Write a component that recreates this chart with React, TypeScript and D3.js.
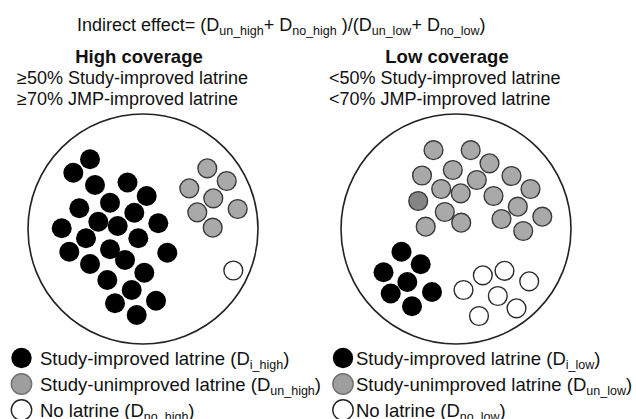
import React from 'react';
import * as d3 from 'd3';

// ---------- data ----------
const PANEL_TITLES = ['High coverage', 'Low coverage'];
const PANEL_LINE1 = ['≥50% Study-improved latrine', '<50% Study-improved latrine'];
const PANEL_LINE2 = ['≥70% JMP-improved latrine', '<70% JMP-improved latrine'];

// household offsets from the community centre (community radius = 115 units)
const HIGH_IMPROVED: [number, number][] = [
  [-53, -69.7], [-69.7, -56.3], [-48, -44], [-15.5, -46.5], [3.7, -33], [-33, -26.3],
  [-63.7, -20.7], [-8.7, -16.3], [-44.7, -7.3], [-25.3, -3], [15.3, -5.7], [-81.3, -0.7],
  [-57, 9.3], [-4.7, 9.3], [-73.7, 22.7], [-33, 20.3], [-18, 31], [24.3, 23.7],
  [-53, 35], [1.3, 43.7], [-35.7, 51], [-11.3, 61], [13, 71.7], [-28, 74.3], [-6.3, 86],
];
const HIGH_UNIMPROVED: [number, number][] = [
  [64.3, -60.7], [83.7, -48], [46.3, -40.7], [70.3, -30.7], [54.3, -16.7], [94.7, -20], [69.7, -1.3],
];
const HIGH_NONE: [number, number][] = [[90.3, 41.5]];

const LOW_IMPROVED: [number, number][] = [
  [-54.5, 22.7], [-35.3, 35.2], [-72.5, 43.2], [-48.7, 53], [-65.3, 64.5], [-24, 63], [-44, 77.3],
];
const LOW_UNIMPROVED: [number, number][] = [
  [-22.5, -78.8], [14.7, -78.8], [33.5, -65.7], [-3.2, -59], [-34, -53.5], [20.8, -49],
  [55.5, -53], [-14.8, -40], [4.7, -35.7], [74.5, -40], [37.5, -33], [-37.8, -28],
  [61.8, -22.3], [-11.2, -17], [86.3, -12.3], [45.5, -10], [5.2, -6.3], [-30.3, -2.3], [67.2, 2],
];
const LOW_UNIMPROVED_DARK = [11];
const LOW_NONE: [number, number][] = [
  [26.8, 46.3], [48.5, 41.8], [73.2, 52.3], [7.5, 61], [41.8, 67], [60.5, 79.3], [23, 87],
];

const TITLE_SEGMENTS: [string, boolean][] = [
  ['Indirect effect= (D', false], ['un_high', true], ['+ D', false], ['no_high', true],
  [' )/(D', false], ['un_low', true], ['+ D', false], ['no_low', true], [')', false],
];

const LEGEND_LABELS = ['Study-improved latrine', 'Study-unimproved latrine', 'No latrine'];
const LEGEND_SUBS = [
  ['i_high', 'un_high', 'no_high'],
  ['i_low', 'un_low', 'no_low'],
];

// ---------- layout ----------
const W = 636;
const H = 419;
const FONT = '"Liberation Sans", Arial, Helvetica, sans-serif';
const R = 115;
const CX = [143, 456];
const CY = 229;
const DOT_R = 10;
const FILLS = ['#000000', '#a9a9a9', '#ffffff'];
const STROKES = ['#000000', '#3a3a3a', '#2a2a2a'];
const SUB_SIZE = 12.5;
const SUB_SHIFT = 4;

function Dots({ pts, kind, cx, dark = [] as number[] }: { pts: [number, number][]; kind: number; cx: number; dark?: number[] }) {
  const x = d3.scaleLinear().domain([-R, R]).range([cx - R, cx + R]);
  const y = d3.scaleLinear().domain([-R, R]).range([CY - R, CY + R]);
  return (
    <g>
      {pts.map((p, i) => (
        <circle
          key={i}
          cx={x(p[0])}
          cy={y(p[1])}
          r={kind === 0 ? DOT_R : DOT_R - 0.6}
          fill={dark.includes(i) ? '#858585' : FILLS[kind]}
          stroke={STROKES[kind]}
          strokeWidth={kind === 0 ? 0 : 1.4}
        />
      ))}
    </g>
  );
}

function Segs({ segs }: { segs: [string, boolean][] }) {
  let prevSub = false;
  return (
    <>
      {segs.map(([t, isSub], i) => {
        const dy = isSub && !prevSub ? SUB_SHIFT : !isSub && prevSub ? -SUB_SHIFT : 0;
        prevSub = isSub;
        return (
          <tspan key={i} dy={dy} fontSize={isSub ? SUB_SIZE : undefined}>
            {t}
          </tspan>
        );
      })}
    </>
  );
}

export default function App() {
  const legendRows = [358, 384, 410];
  const legendMarkerX = [21.5, 343];
  const legendTextX = [40, 356];
  const colTextX = [17, 329];
  const colTitleX = [139, 447];

  const panels = [
    [HIGH_IMPROVED, HIGH_UNIMPROVED, HIGH_NONE],
    [LOW_IMPROVED, LOW_UNIMPROVED, LOW_NONE],
  ];

  return (
    <svg width={W} height={H} style={{ position: 'absolute', left: 0, top: 0, background: '#fff' }} fontFamily={FONT}>
      <rect width={W} height={H} fill="#fff" />
      <text x={77} y={31} fontSize={18} fill="#111" style={{ whiteSpace: 'pre' }}>
        <Segs segs={TITLE_SEGMENTS} />
      </text>

      {[0, 1].map((p) => (
        <g key={p}>
          <text x={colTitleX[p]} y={63} fontSize={18.5} fontWeight="bold" textAnchor="middle" fill="#111">
            {PANEL_TITLES[p]}
          </text>
          <text x={colTextX[p]} y={84} fontSize={18} fill="#111">{PANEL_LINE1[p]}</text>
          <text x={colTextX[p]} y={105} fontSize={18} fill="#111">{PANEL_LINE2[p]}</text>
          <circle cx={CX[p]} cy={CY} r={R} fill="none" stroke="#222" strokeWidth={1.6} />
          <Dots pts={panels[p][1]} kind={1} cx={CX[p]} dark={p === 1 ? LOW_UNIMPROVED_DARK : []} />
          <Dots pts={panels[p][2]} kind={2} cx={CX[p]} />
          <Dots pts={panels[p][0]} kind={0} cx={CX[p]} />
          {LEGEND_LABELS.map((lab, i) => (
            <g key={i}>
              <circle
                cx={legendMarkerX[p]}
                cy={legendRows[i]}
                r={10.2}
                fill={i === 1 ? '#9e9e9e' : FILLS[i]}
                stroke={i === 1 ? '#707070' : '#222'}
                strokeWidth={i === 0 ? 0 : 1.4}
              />
              <text x={legendTextX[p]} y={legendRows[i] + 7} fontSize={18.5} fill="#111" style={{ whiteSpace: 'pre' }}>
                <Segs segs={[[lab + ' (D', false], [LEGEND_SUBS[p][i], true], [')', false]]} />
              </text>
            </g>
          ))}
        </g>
      ))}
    </svg>
  );
}
